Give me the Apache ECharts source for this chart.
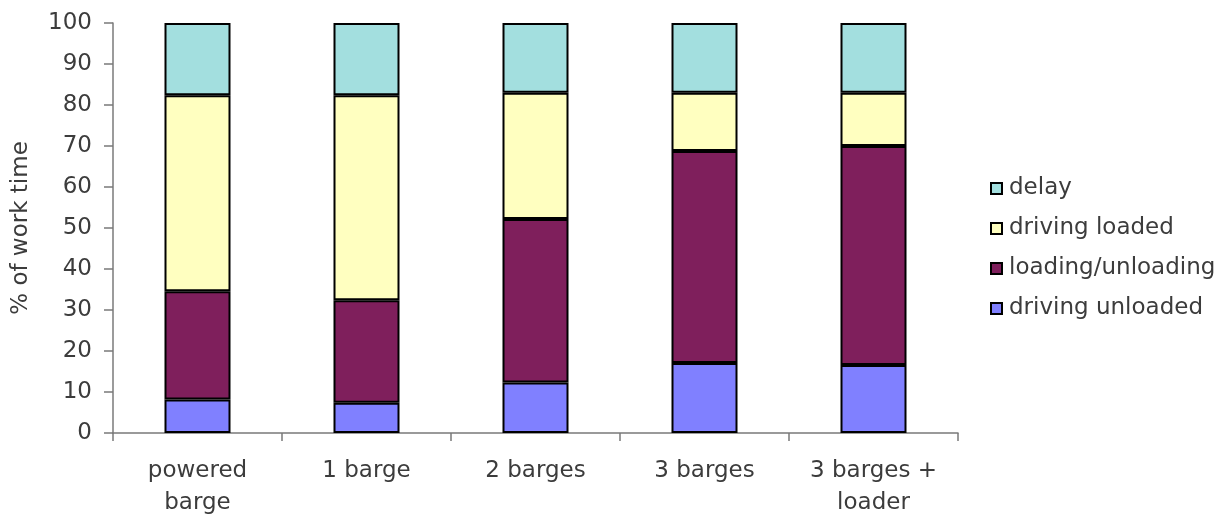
<!DOCTYPE html>
<html>
<head>
<meta charset="utf-8">
<script src="https://cdn.jsdelivr.net/npm/echarts@6/dist/echarts.min.js"></script>
<style>html,body{margin:0;padding:0;background:#fff;}#c{width:1228px;height:519px;}</style>
</head>
<body>
<div id="c"></div>
<script>
const categories = ['powered\nbarge', '1 barge', '2 barges', '3 barges', '3 barges +\nloader'];
const drivingUnloaded = [8.2, 7.4, 12.3, 17.1, 16.6];
const loadingUnloading = [26.4, 25.0, 39.9, 51.7, 53.4];
const drivingLoaded = [47.8, 50.0, 30.8, 14.2, 13.0];
const delay = [17.6, 17.6, 17.0, 17.0, 17.0];
const yTicks = [0, 10, 20, 30, 40, 50, 60, 70, 80, 90, 100];

const chart = echarts.init(document.getElementById('c'));
const font = 'DejaVu Sans, sans-serif';
const txt = '#3c3c3c';
function s(name, data, color) {
  return {
    name, type: 'bar', stack: 'all', data, barWidth: 66,
    itemStyle: { color, borderColor: '#000', borderWidth: 2 }
  };
}
chart.setOption({
  animation: false,
  textStyle: { fontFamily: font },
  grid: { left: 113, right: 270, top: 23, bottom: 84 },
  legend: {
    orient: 'vertical', left: 985, top: 172, itemWidth: 11, itemHeight: 11, itemGap: 17,
    icon: 'rect',
    data: ['delay', 'driving loaded', 'loading/unloading', 'driving unloaded'],
    textStyle: { fontSize: 23, lineHeight: 23, color: txt, fontFamily: font, padding: [0, 0, 0, 2] }
  },
  xAxis: {
    type: 'category', data: categories,
    axisLine: { lineStyle: { color: '#7a7a7a', width: 1.5 } },
    axisTick: { show: true, length: 8, lineStyle: { color: '#7a7a7a', width: 1.5 } },
    axisLabel: { fontSize: 23, color: txt, margin: 22, lineHeight: 32, fontFamily: font }
  },
  yAxis: {
    type: 'value', min: yTicks[0], max: yTicks[yTicks.length - 1], interval: 10,
    name: '% of work time', nameLocation: 'middle', nameGap: 80, nameRotate: 90,
    nameTextStyle: { fontSize: 23, color: txt, fontFamily: font },
    splitLine: { show: false },
    axisLine: { show: true, lineStyle: { color: '#7a7a7a', width: 1.5 } },
    axisTick: { show: true, length: 9, lineStyle: { color: '#7a7a7a', width: 1.5 } },
    axisLabel: { fontSize: 23, color: txt, margin: 21, fontFamily: font }
  },
  series: [
    s('driving unloaded', drivingUnloaded, '#8080FF'),
    s('loading/unloading', loadingUnloading, '#7F1F5C'),
    s('driving loaded', drivingLoaded, '#FFFFC0'),
    s('delay', delay, '#A3DFDF')
  ]
});
</script>
</body>
</html>
